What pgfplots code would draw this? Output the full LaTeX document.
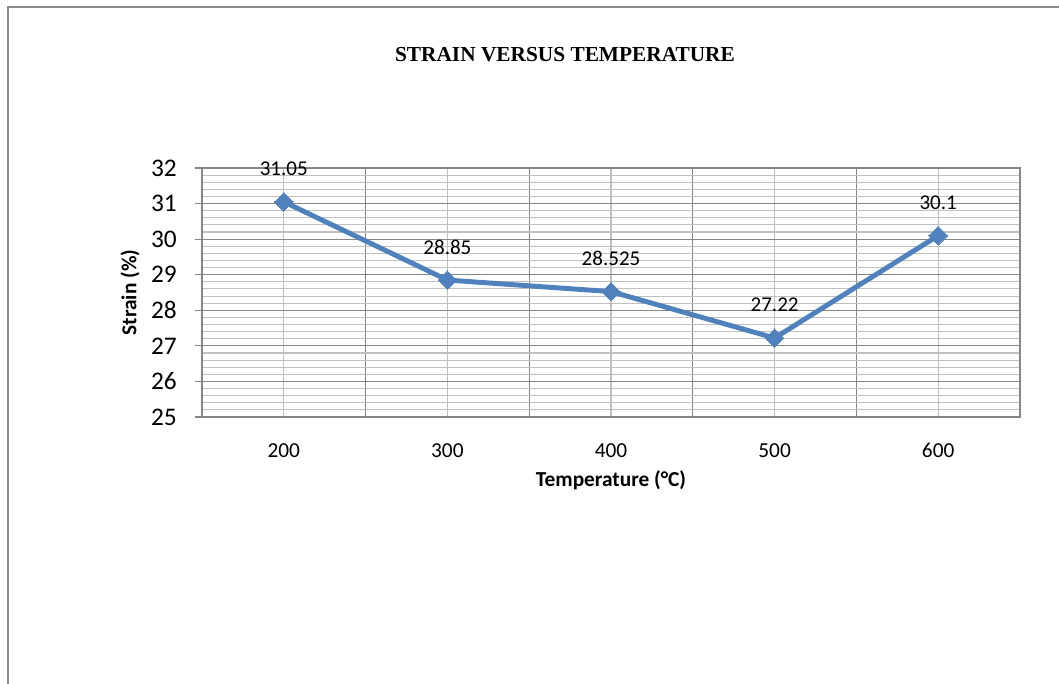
\documentclass[border=0pt]{standalone}
\usepackage{fontspec}
\setmainfont{Carlito}
\newfontfamily\titlefont{Liberation Serif}
\usepackage{pgfplots}
\pgfplotsset{compat=1.18}
\definecolor{lineblue}{RGB}{79,129,189}
\definecolor{majgrid}{RGB}{134,134,134}
\definecolor{mingrid}{RGB}{192,192,192}
\definecolor{framegray}{RGB}{140,140,140}
\begin{document}
\begin{tikzpicture}[x=0.75pt,y=0.75pt]
\useasboundingbox (-202,-267) rectangle (857,417);
\draw[framegray, line width=1.5pt] (-193.5,-270) -- (-193.5,410) -- (860,410);
\node[font=\titlefont\bfseries\fontsize{16}{19}\selectfont, anchor=center] at (363,362) {STRAIN VERSUS TEMPERATURE};
\begin{axis}[
  at={(0,0)}, anchor=south west,
  scale only axis, width=613.5pt, height=186.75pt,
  xmin=-0.5, xmax=4.5, ymin=25, ymax=32,
  xtick={0,1,2,3,4}, xticklabels={200,300,400,500,600},
  minor xtick={-0.5,0.5,1.5,2.5,3.5,4.5},
  ytick={25,26,...,32},
  minor y tick num=4,
  ytick pos=left, xtick pos=bottom,
  grid=both,
  major x grid style={mingrid, line width=0.8pt},
  minor x grid style={majgrid, line width=0.9pt},
  major y grid style={majgrid, line width=0.9pt},
  minor y grid style={mingrid, line width=0.8pt},
  axis line style={majgrid, line width=0.9pt},
  tick align=outside, major tick length=5.25pt, minor tick length=0pt,
  xtick style={draw=none},
  ytick style={majgrid, line width=0.9pt},
  /pgf/number format/assume math mode=true,
  yticklabel style={font=\fontsize{19}{20}\selectfont, anchor=east, inner sep=0pt, xshift=-13.5pt},
  xticklabel style={font=\fontsize{16}{18}\selectfont, anchor=base, inner sep=0pt, yshift=-25.5pt},
  xlabel={\textbf{Temperature (°C)}},
  ylabel={\textbf{Strain (\%)}},
  x label style={font=\fontsize{16}{18}\selectfont, at={(axis description cs:0.5,-0.253)}, anchor=center},
  y label style={font=\fontsize{16}{18}\selectfont, at={(axis description cs:-0.088,0.5)}, anchor=center, rotate=0},
  clip=false,
]
\addplot[lineblue, line width=3.7pt, mark=diamond*, mark size=7pt,
  mark options={solid, fill=lineblue, draw=lineblue, line width=0pt, xscale=1.333},
  nodes near coords, point meta=explicit symbolic,
  every node near coord/.append style={font=\fontsize{15.8}{18}\selectfont, text=black, anchor=center, yshift=24.75pt}]
coordinates {(0,31.05)[31.05] (1,28.85)[28.85] (2,28.525)[28.525] (3,27.22)[27.22] (4,30.1)[30.1]};
\end{axis}
\end{tikzpicture}
\end{document}
